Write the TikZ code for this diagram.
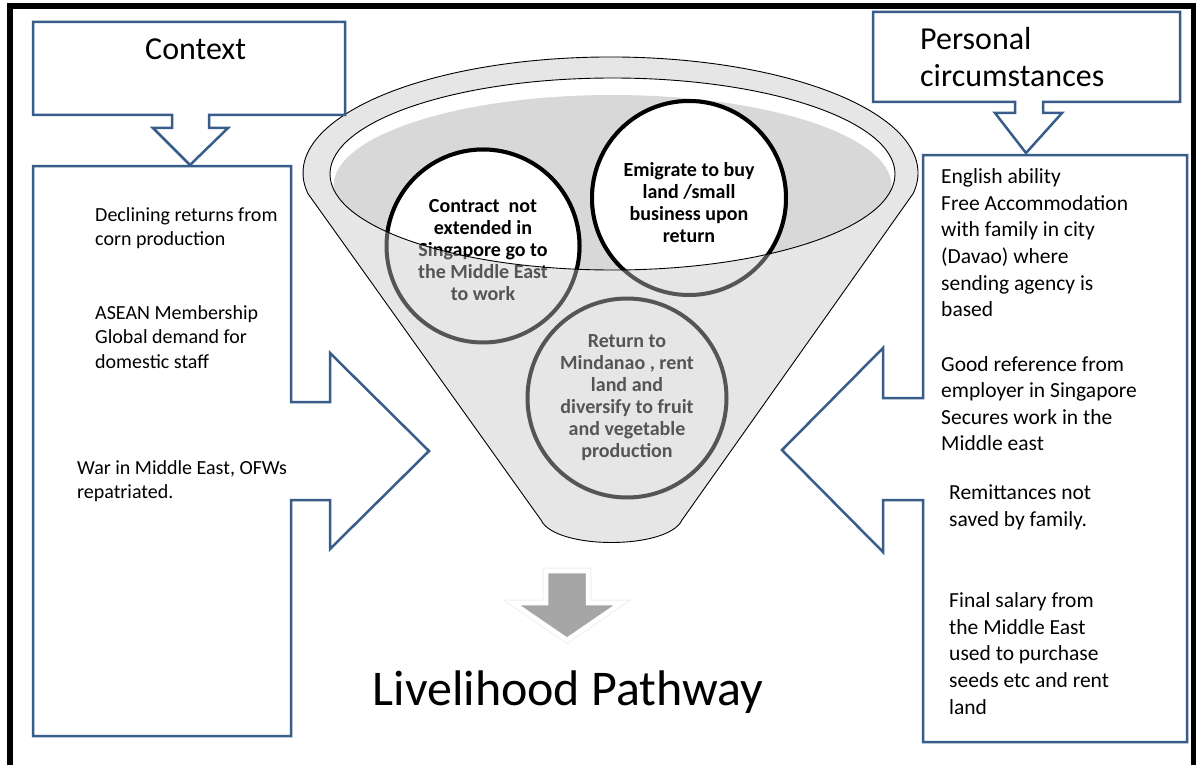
\documentclass[tikz,border=0pt]{standalone}
\usepackage{fontspec}
\setmainfont{Carlito}
\definecolor{blueline}{RGB}{56,93,138}
\definecolor{conegray}{RGB}{230,230,230}
\definecolor{innergray}{RGB}{216,216,216}
\definecolor{fadegray}{RGB}{85,85,85}
\definecolor{arrowgray}{RGB}{166,166,166}
\begin{document}
\begin{tikzpicture}[x=1pt,y=-1pt,
  bluebox/.style={draw=blueline, line width=2.5pt, fill=white, line join=miter},
  body/.style={anchor=north west, inner sep=0pt, align=left, font=\fontsize{20}{24.4}\selectfont},
  bodyr/.style={anchor=north west, inner sep=0pt, align=left, font=\fontsize{21.5}{26.6}\selectfont},
  heading/.style={inner sep=0pt, align=left, font=\fontsize{32}{37}\selectfont},
  ring/.style={circle, line width=4pt, minimum size=#1, inner sep=0pt},
  ringtext/.style={align=center, inner sep=0pt, font=\bfseries\fontsize{20}{22}\selectfont},
]
\useasboundingbox (0,0) rectangle (1196,765);
\fill[white] (0,0) rectangle (1196,765);

% outer frame
\draw[line width=6pt, line join=miter] (10,765) -- (10,6) -- (1194,6) -- (1194,765);

% ---------- funnel ----------
\coordinate (FL) at (541,520);
\coordinate (FR) at (682,520);
\coordinate (RL) at (308,193.7);
\fill[conegray] (FL) -- (RL) arc[start angle=169.7, end angle=370.3, x radius=307.5, y radius=116]
  -- (FR) .. controls (668,550) and (555,550) .. cycle;
% shadow band below inner rim
\begin{scope}
  \clip (FL) -- (RL) arc[start angle=169.7, end angle=370.3, x radius=307.5, y radius=116]
  -- (FR) .. controls (668,550) and (555,550) .. cycle;
  \fill[gray!19] (612.5,182) ellipse[x radius=282, y radius=100];
\end{scope}
\draw[line width=0.9pt] (FL) -- (RL) arc[start angle=169.7, end angle=370.3, x radius=307.5, y radius=116]
  -- (FR) .. controls (668,550) and (555,550) .. cycle;
% inner rim
\fill[white] (612.5,174) ellipse[x radius=282.5, y radius=96];
\begin{scope}
  \clip (612.5,174) ellipse[x radius=282.5, y radius=96];
  \fill[innergray] (612.5,186) ellipse[x radius=279, y radius=91];
\end{scope}

% circles (faded versions, seen through the funnel)
\node[ring=193pt, draw=fadegray] (c1) at (483,246) {};
\node[ring=194pt, draw=fadegray] (c2) at (689,198) {};
\node[ring=199pt, draw=fadegray] (c3) at (627,398) {};
\node[ringtext, text=fadegray] (t1) at ([yshift=-4pt]c1) {Contract~ not\\extended in\\Singapore go to\\the Middle East\\to work};
\node[ringtext, text=fadegray] (t2) at ([yshift=-5pt]c2) {Emigrate to buy\\land /small\\business upon\\return};
\node[ringtext, text=fadegray] (t3) at (c3) {Return to\\Mindanao , rent\\land and\\diversify to fruit\\and vegetable\\production};
% circles inside the rim
\begin{scope}
  \clip (612.5,174) ellipse[x radius=282.5, y radius=96];
  \node[ring=193pt, draw=black, fill=white] (c1top) at (483,246) {};
  \node[ring=194pt, draw=black, fill=white] (c2top) at (689,198) {};
  \node[ringtext, text=black] (t1top) at ([yshift=-4pt]c1top) {Contract~ not\\extended in\\Singapore go to\\the Middle East\\to work};
  \node[ringtext, text=black] (t2top) at ([yshift=-5pt]c2top) {Emigrate to buy\\land /small\\business upon\\return};
\end{scope}
\draw[line width=0.9pt] (612.5,174) ellipse[x radius=282.5, y radius=96];

% ---------- left side ----------
\draw[bluebox] (33,22) -- (345,22) -- (345,115) -- (209,115) -- (209,128) -- (228,128)
  -- (190,165) -- (153,128) -- (172,128) -- (172,115) -- (33,115) -- cycle;
\node[heading, anchor=base west] (ctx) at (145,60) {Context};
\draw[bluebox] (33,166) -- (291,166) -- (291,402) -- (330,402) -- (330,353) -- (429,451)
  -- (330,549) -- (330,500) -- (291,500) -- (291,736) -- (33,736) -- cycle;
\node[body] (l1) at (95,207.5) {Declining returns from\\corn production};
\node[body] (l2) at (95,305.5) {ASEAN Membership\\Global demand for\\domestic staff};
\node[body] (l3) at (77,460.5) {War in Middle East, OFWs\\repatriated.};

% ---------- right side ----------
\draw[bluebox] (873,12) -- (1180,12) -- (1180,102) -- (1043,102) -- (1043,113) -- (1062,113)
  -- (1026,153) -- (995,113) -- (1015,113) -- (1015,102) -- (873,102) -- cycle;
\node[heading, anchor=north west] (pc) at (920,27) {Personal\\circumstances};
\draw[bluebox] (923,155) -- (1187,155) -- (1187,742) -- (923,742) -- (923,500) -- (883,500)
  -- (883,552) -- (782,450) -- (883,348) -- (883,398) -- (923,398) -- cycle;
\node[bodyr] (r1) at (941,168.5) {English ability\\Free Accommodation\\with family in city\\(Davao) where\\sending agency is\\based};
\node[bodyr] (r2) at (941,356) {Good reference from\\employer in Singapore\\Secures work in the\\Middle east};
\node[bodyr] (r3) at (949,484.5) {Remittances not\\saved by family.};
\node[bodyr] (r4) at (949,592.5) {Final salary from\\the Middle East\\used to purchase\\seeds etc and rent\\land};

% ---------- output arrow ----------
\draw[gray!10, line width=7pt, line join=miter] (546,571) -- (588,571) -- (588,603) -- (621,603) -- (567,640) -- (513,603) -- (546,603) -- cycle;
\draw[white, line width=4.5pt, line join=miter, fill=arrowgray] (546,571) -- (588,571) -- (588,603) -- (621,603) -- (567,640) -- (513,603) -- (546,603) -- cycle;
\node[anchor=base, inner sep=0pt, font=\fontsize{50}{60}\selectfont] (title) at (568,705) {Livelihood Pathway};
\end{tikzpicture}
\end{document}
